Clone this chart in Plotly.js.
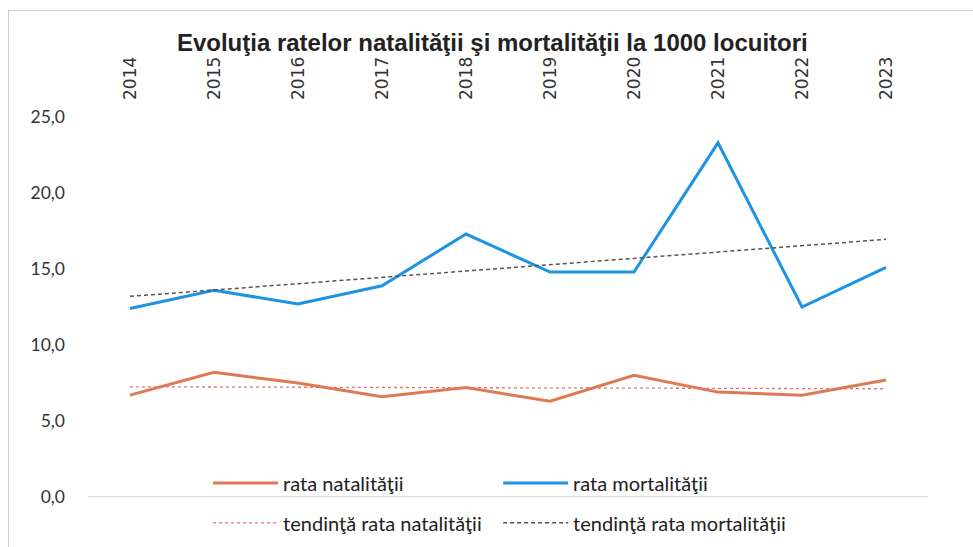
<!DOCTYPE html>
<html>
<head>
<meta charset="utf-8">
<script src="https://cdn.plot.ly/plotly-3.0.1.min.js"></script>
<style>
body{margin:0;padding:0;background:#fff;}
#chart{width:973px;height:547px;}
#frame{position:absolute;left:8px;top:10px;width:990px;height:560px;border:1px solid #cfcfcf;pointer-events:none;}
</style>
</head>
<body>
<div id="chart"></div>
<div id="frame"></div>
<script>
const years = ['2014','2015','2016','2017','2018','2019','2020','2021','2022','2023'];
const natalitate = [6.7, 8.2, 7.5, 6.6, 7.2, 6.3, 8.0, 6.9, 6.7, 7.7];
const mortalitate = [12.4, 13.6, 12.7, 13.9, 17.3, 14.8, 14.8, 23.3, 12.5, 15.1];
const trendYears = ['2014','2023'];
const trendNatalitate = [7.25, 7.12];
const trendMortalitate = [13.2, 16.95];
const yTicks = [0, 5, 10, 15, 20, 25];
const yTickLabels = ['0,0','5,0','10,0','15,0','20,0','25,0'];

const xTickFont = {family:'"DejaVu Sans", Verdana, sans-serif', size:17, color:'#333'};
const yTickFont = {family:'Lato, "Open Sans", sans-serif', size:17.5, color:'#333'};
const legFont = {family:'Lato, "Open Sans", sans-serif', size:20, color:'#222'};

const traces = [
  {x:years, y:natalitate, name:'rata natalităţii', mode:'lines', line:{color:'#DD7A52', width:3}, legend:'legend'},
  {x:years, y:mortalitate, name:'rata mortalităţii', mode:'lines', line:{color:'#1C93E3', width:3}, legend:'legend'},
  {x:trendYears, y:trendNatalitate, name:'tendinţă rata natalităţii', mode:'lines', line:{color:'#E57373', width:1.3, dash:'3px,3px'}, legend:'legend2'},
  {x:trendYears, y:trendMortalitate, name:'tendinţă rata mortalităţii', mode:'lines', line:{color:'#555', width:1.5, dash:'4px,3px'}, legend:'legend2'}
];

const layout = {
  width:973, height:547,
  margin:{l:88, r:45, t:117, b:50, autoexpand:false},
  paper_bgcolor:'#fff', plot_bgcolor:'#fff',
  showlegend:true,
  title:{text:'<b>Evoluţia ratelor natalităţii şi mortalităţii la 1000 locuitori</b>',
         font:{family:'"Liberation Sans", Arial, sans-serif', size:24, color:'#222'},
         x:0.506, xref:'container', xanchor:'center', y:0.923, yref:'container', yanchor:'middle'},
  xaxis:{type:'category', side:'top', tickangle:-90, tickfont:xTickFont, showgrid:false, showline:false,
         ticks:'', zeroline:false, range:[-0.5, 9.5], ticklabelstandoff:16, fixedrange:true},
  yaxis:{range:[0,25], tickvals:yTicks, ticktext:yTickLabels, tickfont:yTickFont, showgrid:false,
         showline:false, zeroline:false, ticks:'', ticklabelstandoff:22, fixedrange:true},
  shapes:[{type:'line', xref:'paper', yref:'y', x0:0, x1:1, y0:0, y1:0, line:{color:'#bdbdbd', width:1.2}, layer:'below'}],
  legend:{orientation:'h', x:0.143, xanchor:'left', y:0.037, yanchor:'middle', bgcolor:'rgba(0,0,0,0)',
          font:legFont, entrywidth:210, itemwidth:65, traceorder:'normal'},
  legend2:{orientation:'h', x:0.143, xanchor:'left', y:-0.068, yanchor:'middle', bgcolor:'rgba(0,0,0,0)',
          font:legFont, entrywidth:210, itemwidth:65, traceorder:'normal'}
};

Plotly.newPlot('chart', traces, layout, {displayModeBar:false, staticPlot:true});
</script>
</body>
</html>
